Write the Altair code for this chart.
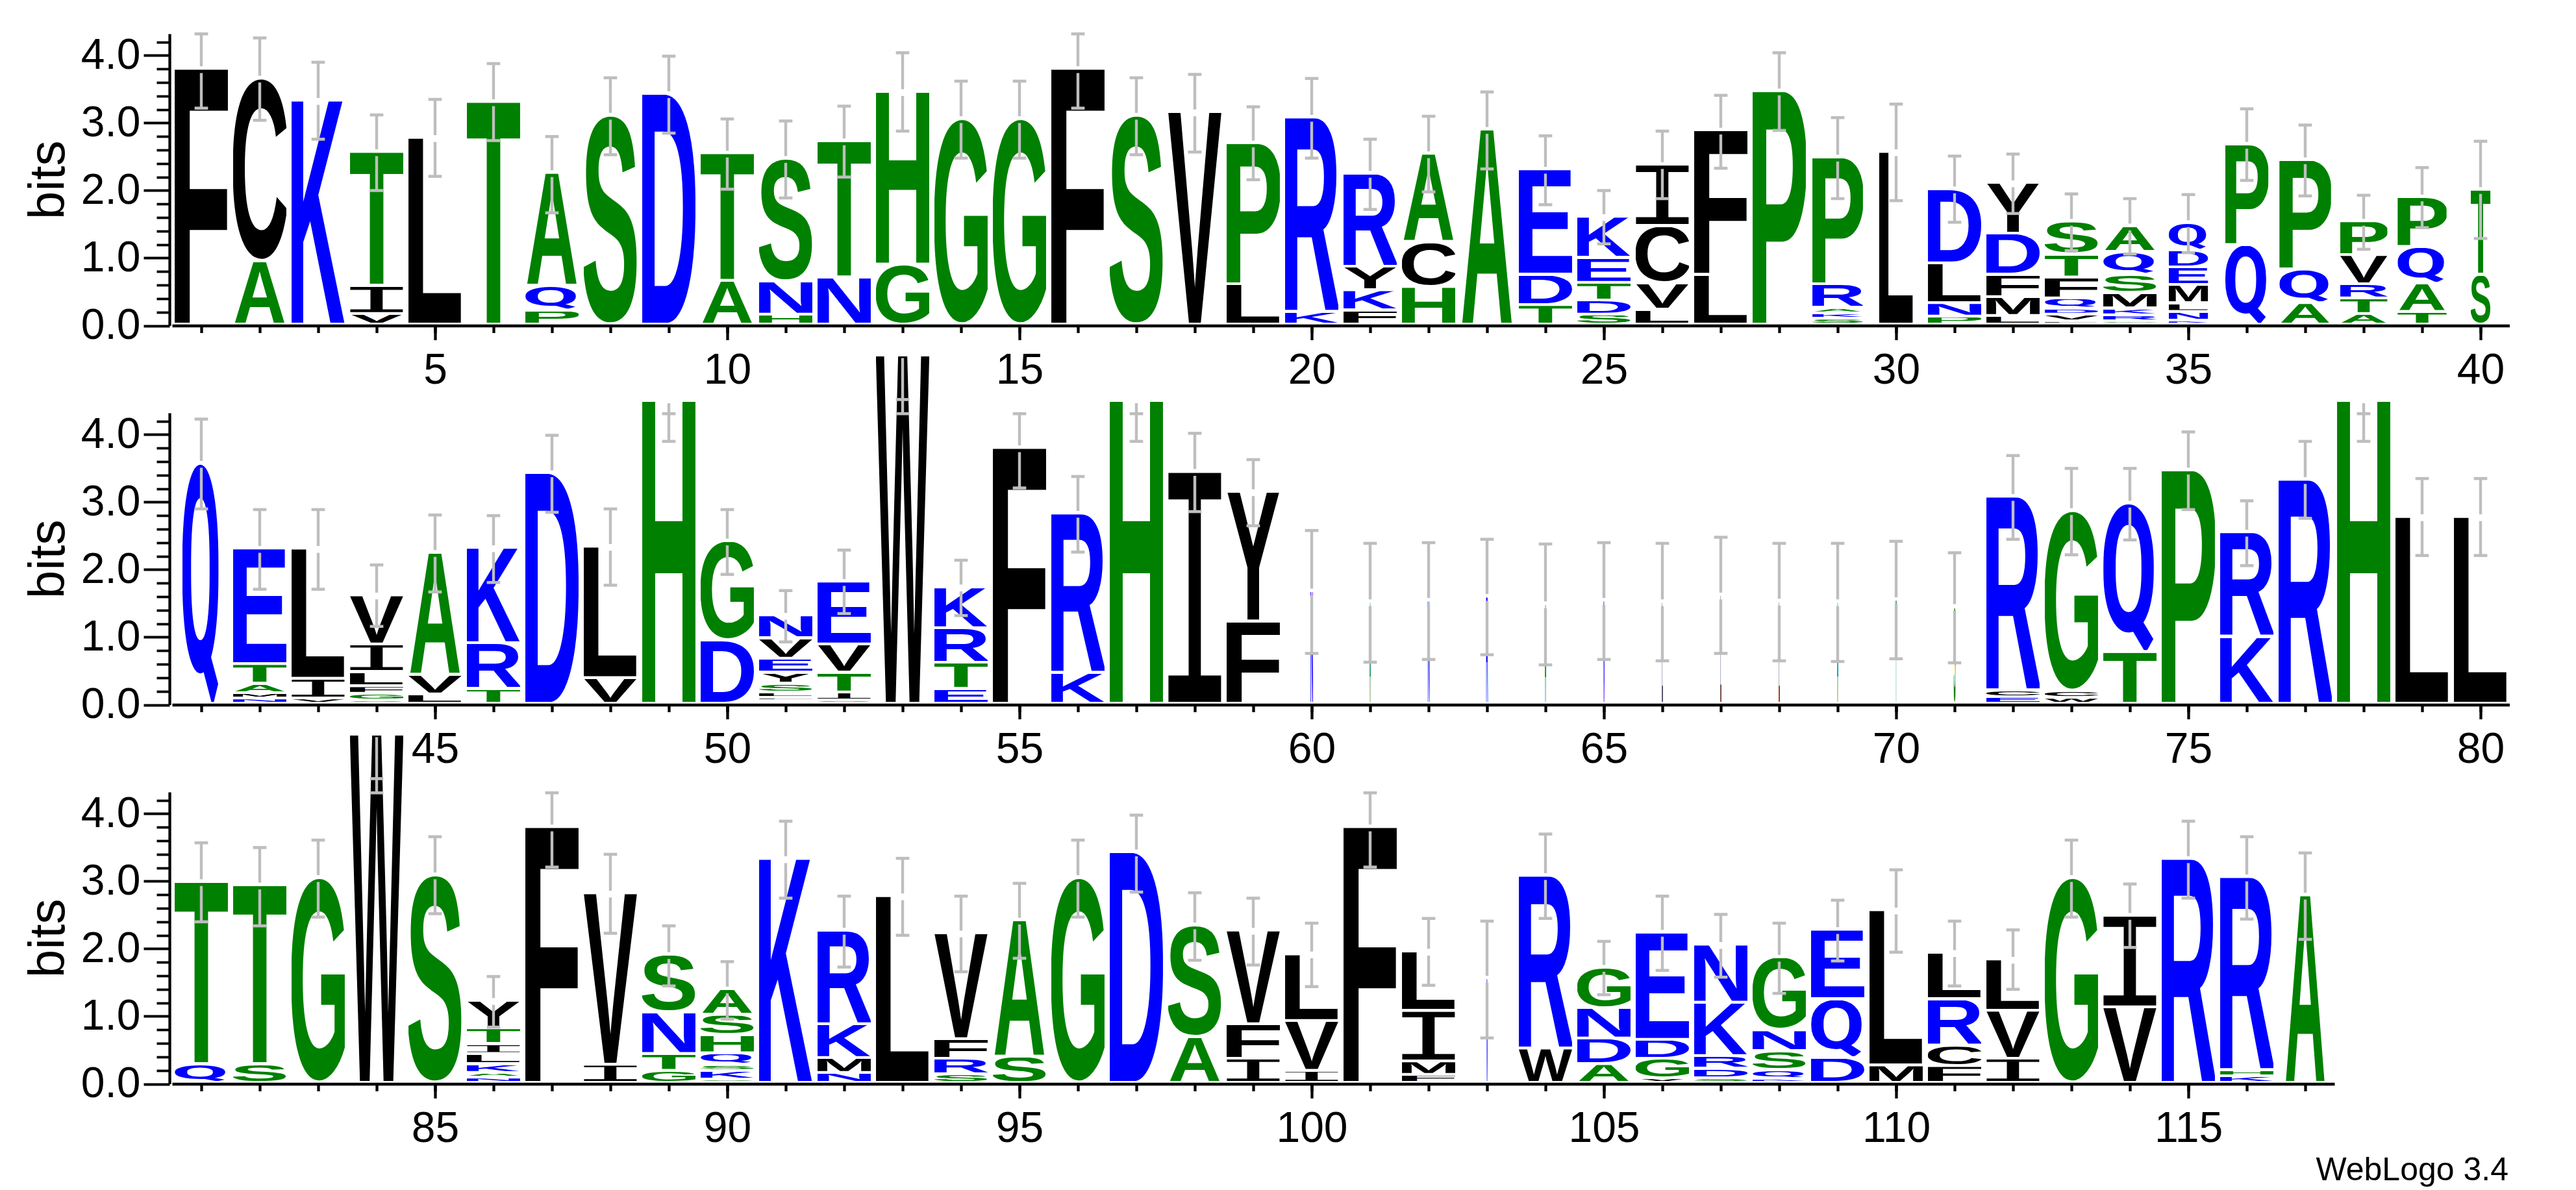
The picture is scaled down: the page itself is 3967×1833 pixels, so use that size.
# coding: utf-8
import base64

import altair as alt
import pandas as pd

# letters of each column, bottom to top, with the top of each letter in bits
letters_1 = ["F", "AC", "K", "VIT", "L", "T", "PQA", "S", "D", "AT", "HNS", "NT", "GH", "G", "G", "F", "S", "V", "LP", "KR",
             "FKYR", "HCA", "A", "TDE", "SDTEK", "LVCI", "LF", "P", "SKARP", "L", "PNLD", "LMFDY", "LVDQFTS", "GRKMSQA",
             "KNLMEDQ", "QP", "AQP", "ATRVP", "TAQP", "ST"]
tops_1 = [[3.79], [.94, 3.65], [3.32], [.16, .58, 2.56], [2.77], [3.30], [.21, .58, 2.25], [3.10], [3.42], [.65, 2.54],
          [.15, .64, 2.46], [.70, 2.72], [.89, 3.45], [3.05], [3.05], [3.79], [3.10], [3.15], [.60, 2.69], [.19, 3.07],
          [.21, .51, .86, 2.24], [.56, 1.22, 2.53], [2.89], [.29, .74, 2.30], [.15, .36, .62, .99, 1.60],
          [.22, .61, 1.46, 2.37], [.74, 2.88], [3.46], [.09, .17, .25, .60, 2.48], [2.56], [.12, .32, .91, 2.01],
          [.13, .41, .74, 1.35, 2.10], [.05, .15, .24, .39, .70, 1.04, 1.53], [.05, .14, .24, .47, .74, 1.08, 1.46],
          [.06, .19, .32, .59, .85, 1.10, 1.51], [1.18, 2.67], [.32, .82, 2.44], [.16, .39, .60, 1.03, 1.53],
          [.19, .61, 1.15, 1.89], [.74, 2.00]]
err_high_1 = [4.32, 4.26, 3.90, 3.12, 3.35, 3.88, 2.80, 3.67, 3.99, 3.06, 3.03, 3.25, 4.04, 3.62, 3.62, 4.32, 3.67, 3.72,
              3.24, 3.66, 2.76, 3.10, 3.46, 2.81, 2.00, 2.88, 3.41, 4.04, 3.08, 3.28, 2.51, 2.54, 1.95, 1.88, 1.94, 3.21,
              2.97, 1.93, 2.34, 2.73]
err_low_1 = [3.22, 3.04, 2.76, 2.00, 2.21, 2.74, 1.67, 2.53, 2.85, 2.02, 1.89, 2.20, 2.88, 2.48, 2.48, 3.22, 2.53, 2.57,
             2.16, 2.48, 1.72, 1.98, 2.32, 1.79, 1.21, 1.88, 2.33, 2.89, 1.88, 1.85, 1.53, 1.66, 1.11, 1.06, 1.08, 2.15,
             1.92, 1.13, 1.45, 1.29]
widths_1 = {29: .95, 30: .64, 35: .74, 36: .81, 37: .97, 38: .89, 39: .92, 40: .37}

letters_2 = ["Q", "NMATE", "VIL", "SGFLIV", "LVA", "TRK", "D", "VL", "H", "DG", "SFLSYEVN", "SITVE", "W", "ETRK", "F", "KR",
             "H", "I", "FY", "N", "A", "N", "R", "A", "N", "L", "L", "L", "A", "T", "S", "ECR", "WCG", "TQ", "P", "KR", "R",
             "H", "L", "L"]
tops_2 = [[3.56], [.08, .16, .30, .59, 2.30], [.08, .37, 2.30], [.05, .15, .26, .47, .88, 1.61], [.14, .43, 2.24],
          [.22, .90, 2.31], [3.42], [.38, 2.33], [4.49], [.94, 2.41], [.04, .09, .17, .30, .46, .67, .97, 1.31],
          [.05, .17, .46, .88, 1.81], [5.16], [.22, .61, 1.12, 1.73], [3.79], [.46, 2.82], [4.49], [3.44], [1.22, 3.14],
          [1.67], [1.51], [1.53], [1.59], [1.48], [1.53], [1.51], [1.61], [1.52], [1.51], [1.54], [1.44], [.10, .20, 3.07],
          [.09, .19, 2.86], [.77, 2.97], [3.46], [.99, 2.54], [3.32], [4.49], [2.77], [2.77]]
err_high_2 = [4.23, 2.89, 2.89, 2.07, 2.81, 2.80, 3.99, 2.90, 4.31, 2.89, 1.69, 2.29, 4.31, 2.14, 4.31, 3.38, 4.31, 4.02,
              3.63, 2.58, 2.39, 2.40, 2.45, 2.38, 2.40, 2.39, 2.48, 2.39, 2.39, 2.42, 2.25, 3.69, 3.50, 3.50, 4.04, 3.02,
              3.90, 4.31, 3.35, 3.35]
err_low_2 = [2.90, 1.71, 1.71, 1.16, 1.67, 1.81, 2.85, 1.77, 3.90, 1.93, .93, 1.35, 4.52, 1.32, 3.21, 2.26, 3.90, 2.86,
             2.65, .76, .63, .67, .74, .59, .67, .65, .76, .65, .64, .68, .62, 2.45, 2.22, 2.44, 2.89, 2.06, 2.76, 3.90,
             2.21, 2.21]
widths_2 = {41: .72, 60: .05, 61: .025, 62: .04, 63: .04, 64: .03, 65: .03, 66: .02, 67: .02, 68: .02, 69: .025, 70: .02,
            71: .04}

letters_3 = ["QT", "ST", "G", "W", "S", "NAKLITY", "F", "IV", "GTNS", "SKSQHSA", "K", "NMKR", "L", "SRFV", "SA", "G", "D", "AS",
             "IFV", "IVL", "F", "FMIL", "N", "WR", "ADNG", "VGDE", "SDRKN", "KQSNG", "DQE", "ML", "FCRL", "IVL", "G", "VI",
             "R", "KHR", "A"]
tops_3 = [[.28, 2.98], [.28, 2.93], [3.04], [5.16], [3.08], [.08, .15, .28, .43, .58, .81, 1.22], [3.79], [.27, 2.81],
          [.18, .43, 1.05, 1.90], [.05, .18, .27, .44, .71, 1.01, 1.39], [3.32], [.15, .37, .87, 2.26], [2.77],
          [.13, .36, .65, 2.22], [.39, 2.41], [3.04], [3.42], [.68, 2.34], [.36, .87, 2.26], [.18, .92, 1.91], [3.79],
          [.12, .32, 1.07, 1.95], [1.55], [.51, 3.07], [.28, .66, 1.11, 1.71], [.07, .36, .64, 2.23],
          [.07, .21, .40, 1.19, 2.05], [.06, .19, .47, .78, 1.86], [.37, 1.24, 2.27], [.26, 2.56], [.25, .55, 1.24, 1.93],
          [.36, 1.07, 1.83], [3.04], [1.12, 2.48], [3.32], [.10, .19, 3.05], [2.78]]
err_high_3 = [3.57, 3.50, 3.61, 4.31, 3.66, 1.59, 4.31, 3.40, 2.34, 1.81, 3.89, 2.78, 3.34, 2.78, 2.97, 3.61, 3.98, 2.83,
              2.75, 2.38, 4.31, 2.45, 2.41, 3.70, 2.11, 2.78, 2.51, 2.38, 2.72, 3.17, 2.41, 2.28, 3.61, 2.96, 3.89, 3.66,
              3.42]
err_low_3 = [2.40, 2.34, 2.47, 4.52, 2.52, .84, 3.21, 2.23, 1.45, .96, 2.75, 1.73, 2.20, 1.66, 1.86, 2.47, 2.84, 1.83, 1.76,
             1.44, 3.21, 1.46, .68, 2.45, 1.32, 1.68, 1.58, 1.34, 1.82, 1.95, 1.45, 1.40, 2.47, 2.02, 2.75, 2.44, 2.14]
widths_3 = {103: .025, 117: .78}

y_major = [0, 1, 2, 3, 4]
y_minor = [0.2, 0.4, 0.6, 0.8, 1.2, 1.4, 1.6, 1.8, 2.2, 2.4, 2.6, 2.8, 3.2, 3.4, 3.6, 3.8, 4.2]

colors = {"A": "#008000", "C": "#000000", "D": "#0000ff", "E": "#0000ff", "F": "#000000", "G": "#008000", "H": "#008000",
          "I": "#000000", "K": "#0000ff", "L": "#000000", "M": "#000000", "N": "#0000ff", "P": "#008000", "Q": "#0000ff",
          "R": "#0000ff", "S": "#008000", "T": "#008000", "V": "#000000", "W": "#000000", "Y": "#000000"}

# ink box of each letter in the bold font: xmin, xmax, ymin, ymax (per 1000)
boxes = {"A": (0, 722, 0, 688), "C": (46, 684, -12, 700), "D": (69, 679, 0, 688), "E": (69, 623, 0, 688),
         "F": (69, 571, 0, 688), "G": (46, 712, -12, 700), "H": (69, 653, 0, 688), "I": (97, 503, 0, 660),
         "K": (69, 718, 0, 688), "L": (69, 588, 0, 688), "M": (69, 764, 0, 688), "N": (69, 653, 0, 688),
         "P": (69, 624, 0, 688), "Q": (40, 680, -110, 722), "R": (69, 690, 0, 688), "S": (36, 632, -12, 700),
         "T": (22, 589, 0, 688), "V": (6, 661, 0, 688), "W": (4, 940, 0, 688), "Y": (6, 661, 0, 688)}

FONT = "Liberation Sans"
# the logo's I has slab bars and its Q a slanted tail, which the sans font has not
faces = {"I": 'font-family="Liberation Mono"', "Q": 'font-family="Roboto" font-weight="bold"'}
Y_MAX = 4.3219
FULL_WIDTH = 0.91
PAD = 0.04
GAP = 0.05
CAP = 0.115
GREY = "#bebebe"


def glyph_url(letter):
    x0, x1, y0, y1 = boxes[letter]
    face = faces.get(letter, f'font-family="{FONT}" font-weight="bold"')
    svg = (f'<svg xmlns="http://www.w3.org/2000/svg" width="100" height="100" preserveAspectRatio="none" '
           f'viewBox="{x0} {-y1} {x1 - x0} {y1 - y0}"><text x="0" y="0" {face} '
           f'font-size="1000" fill="{colors[letter]}">{letter}</text></svg>')
    return "data:image/svg+xml;base64," + base64.b64encode(svg.encode()).decode()


def logo_row(first, letters, tops, err_high, err_low, widths):
    glyphs, lines, caps = [], [], []
    for i, (column, heights) in enumerate(zip(letters, tops)):
        pos = first + i
        half = widths.get(pos, 1) * FULL_WIDTH / 2
        prev = 0
        for letter, top in zip(column, heights):
            glyphs.append({"pos": pos, "letter": letter, "x0": pos - half, "x1": pos + half,
                           "y0": prev + PAD, "y1": top, "url": glyph_url(letter)})
            prev = top
        stack = heights[-1]
        high, low = err_high[i], err_low[i]
        if stack > high:
            lines.append({"pos": pos, "y0": min(high, low), "y1": stack - GAP / 2})
        else:
            lines.append({"pos": pos, "y0": stack + GAP, "y1": high})
            lines.append({"pos": pos, "y0": low, "y1": stack - GAP})
        for v in (high, low):
            caps.append({"x0": pos - CAP, "x1": pos + CAP, "y": v})

    domain = [first - 0.5, first + len(letters) - 0.5]
    x_scale = alt.Scale(domain=domain, nice=False, zero=False)
    y_scale = alt.Scale(domain=[0, Y_MAX], nice=False, zero=False)
    all_ticks = list(range(first, first + len(letters)))
    x_labels = [p for p in all_ticks if p % 5 == 0]

    image = (
        alt.Chart(pd.DataFrame(glyphs))
        .mark_image(aspect=False)
        .encode(
            x=alt.X("x0:Q", scale=x_scale, title=None,
                    axis=alt.Axis(orient="bottom", values=x_labels, format="d", tickSize=22, tickWidth=4.3,
                                  domainWidth=4.6, labelFontSize=66, labelPadding=15, grid=False, labelFlush=False,
                                  labelOverlap=False)),
            x2="x1:Q",
            y=alt.Y("y0:Q", scale=y_scale, title="bits",
                    axis=alt.Axis(orient="left", values=y_major, format=".1f", tickSize=40, tickWidth=3.8,
                                  domainWidth=4.3, offset=4, labelFontSize=66, labelPadding=5, titleFontSize=78,
                                  titleFontWeight="normal", titlePadding=10, grid=False, labelFlush=False,
                                  labelOverlap=False)),
            y2="y1:Q",
            url="url:N",
            tooltip="letter:N",
        )
    )
    bars = (
        alt.Chart(pd.DataFrame(lines))
        .mark_rule(color=GREY, strokeWidth=4.4)
        .encode(
            x=alt.X("pos:Q", scale=x_scale, title=None,
                    axis=alt.Axis(orient="bottom", values=all_ticks, labels=False, tickSize=11, tickWidth=4.3,
                                  domain=False, grid=False)),
            y=alt.Y("y0:Q", scale=y_scale, title=None,
                    axis=alt.Axis(orient="left", values=y_minor, labels=False, tickSize=20, tickWidth=3.8,
                                  domain=False, offset=4, grid=False)),
            y2="y1:Q",
        )
    )
    bar_caps = (
        alt.Chart(pd.DataFrame(caps))
        .mark_rule(color=GREY, strokeWidth=4.6)
        .encode(
            x=alt.X("x0:Q", scale=x_scale, axis=None),
            x2="x1:Q",
            y=alt.Y("y:Q", scale=y_scale, axis=None),
        )
    )
    return alt.layer(image, bars, bar_caps).resolve_axis(x="independent", y="independent")


row_1 = logo_row(1, letters_1, tops_1, err_high_1, err_low_1, widths_1).properties(width=3600, height=449.5)
row_2 = logo_row(41, letters_2, tops_2, err_high_2, err_low_2, widths_2).properties(width=3600, height=449.5)

credit = (
    alt.Chart(pd.DataFrame({"label": ["WebLogo 3.4"]}))
    .mark_text(align="right", baseline="alphabetic", fontSize=50, font=FONT, color="#000000")
    .encode(x=alt.value(3598), y=alt.value(598), text="label:N")
)
row_3 = alt.layer(logo_row(81, letters_3, tops_3, err_high_3, err_low_3, widths_3), credit).properties(
    width=3330, height=449.5)

chart = (
    alt.vconcat(row_1, row_2, row_3, spacing=134, bounds="flush")
    .properties(padding={"left": 28, "top": 41, "right": 0, "bottom": 0}, background="#ffffff")
    .configure_view(stroke=None)
    .configure_axis(labelFont=FONT, titleFont=FONT, labelColor="#000000", titleColor="#000000", tickColor="#000000",
                    domainColor="#000000")
)

chart.save("out.html", embed_options={"renderer": "svg", "actions": False})
